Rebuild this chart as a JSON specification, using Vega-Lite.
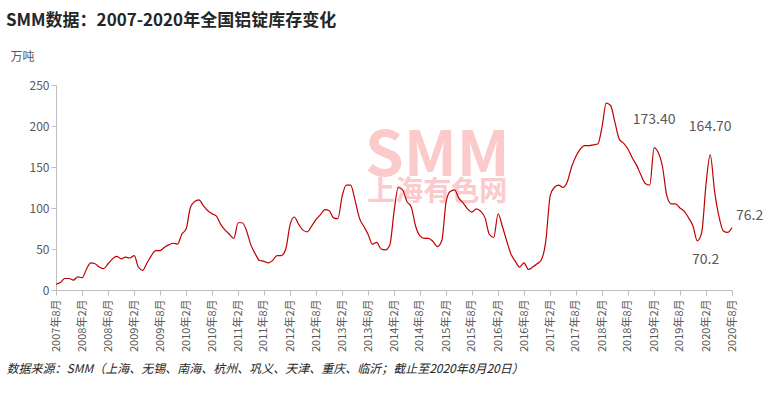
{
"$schema": "https://vega.github.io/schema/vega-lite/v6.json",
"width": 676, "height": 205,
"autosize": {"type": "none"},
"padding": {"left": 56, "top": 85, "right": 35, "bottom": 129},
"background": "white",
"config": {"view": {"stroke": null}, "font": "Noto Sans CJK SC"},
"title": {"text": "SMM数据：2007-2020年全国铝锭库存变化", "anchor": "start", "dx": 0, "offset": 20, "fontSize": 17, "fontWeight": "bold", "color": "#262626"},
"data": {"values": [
{"m":"2007/08/01","v":7},{"m":"2007/09/01","v":9},{"m":"2007/10/01","v":14},{"m":"2007/11/01","v":14},{"m":"2007/12/01","v":12},
{"m":"2008/01/01","v":16},{"m":"2008/02/01","v":15},{"m":"2008/03/01","v":25},{"m":"2008/04/01","v":33},{"m":"2008/05/01","v":32},{"m":"2008/06/01","v":28},{"m":"2008/07/01","v":26},{"m":"2008/08/01","v":32},{"m":"2008/09/01","v":38},{"m":"2008/10/01","v":41},{"m":"2008/11/01","v":38},{"m":"2008/12/01","v":40},
{"m":"2009/01/01","v":39},{"m":"2009/02/01","v":42},{"m":"2009/03/01","v":28},{"m":"2009/04/01","v":24},{"m":"2009/05/01","v":33},{"m":"2009/06/01","v":42},{"m":"2009/07/01","v":48},{"m":"2009/08/01","v":48},{"m":"2009/09/01","v":52},{"m":"2009/10/01","v":55},{"m":"2009/11/01","v":57},{"m":"2009/12/01","v":56},
{"m":"2010/01/01","v":68},{"m":"2010/02/01","v":75},{"m":"2010/03/01","v":100},{"m":"2010/04/01","v":108},{"m":"2010/05/01","v":110},{"m":"2010/06/01","v":103},{"m":"2010/07/01","v":97},{"m":"2010/08/01","v":93},{"m":"2010/09/01","v":90},{"m":"2010/10/01","v":80},{"m":"2010/11/01","v":73},{"m":"2010/12/01","v":68},
{"m":"2011/01/01","v":63},{"m":"2011/02/01","v":82},{"m":"2011/03/01","v":82},{"m":"2011/04/01","v":72},{"m":"2011/05/01","v":55},{"m":"2011/06/01","v":44},{"m":"2011/07/01","v":36},{"m":"2011/08/01","v":35},{"m":"2011/09/01","v":33},{"m":"2011/10/01","v":36},{"m":"2011/11/01","v":42},{"m":"2011/12/01","v":42},
{"m":"2012/01/01","v":50},{"m":"2012/02/01","v":80},{"m":"2012/03/01","v":89},{"m":"2012/04/01","v":80},{"m":"2012/05/01","v":73},{"m":"2012/06/01","v":71},{"m":"2012/07/01","v":78},{"m":"2012/08/01","v":86},{"m":"2012/09/01","v":92},{"m":"2012/10/01","v":98},{"m":"2012/11/01","v":97},{"m":"2012/12/01","v":88},
{"m":"2013/01/01","v":87},{"m":"2013/02/01","v":115},{"m":"2013/03/01","v":128},{"m":"2013/04/01","v":128},{"m":"2013/05/01","v":110},{"m":"2013/06/01","v":88},{"m":"2013/07/01","v":78},{"m":"2013/08/01","v":68},{"m":"2013/09/01","v":56},{"m":"2013/10/01","v":58},{"m":"2013/11/01","v":50},{"m":"2013/12/01","v":49},
{"m":"2014/01/01","v":55},{"m":"2014/02/01","v":97},{"m":"2014/03/01","v":125},{"m":"2014/04/01","v":122},{"m":"2014/05/01","v":108},{"m":"2014/06/01","v":101},{"m":"2014/07/01","v":78},{"m":"2014/08/01","v":66},{"m":"2014/09/01","v":63},{"m":"2014/10/01","v":63},{"m":"2014/11/01","v":59},{"m":"2014/12/01","v":53},
{"m":"2015/01/01","v":60},{"m":"2015/02/01","v":108},{"m":"2015/03/01","v":120},{"m":"2015/04/01","v":122},{"m":"2015/05/01","v":112},{"m":"2015/06/01","v":106},{"m":"2015/07/01","v":99},{"m":"2015/08/01","v":95},{"m":"2015/09/01","v":99},{"m":"2015/10/01","v":96},{"m":"2015/11/01","v":88},{"m":"2015/12/01","v":68},
{"m":"2016/01/01","v":64},{"m":"2016/02/01","v":93},{"m":"2016/03/01","v":78},{"m":"2016/04/01","v":60},{"m":"2016/05/01","v":44},{"m":"2016/06/01","v":35},{"m":"2016/07/01","v":28},{"m":"2016/08/01","v":33},{"m":"2016/09/01","v":25},{"m":"2016/10/01","v":28},{"m":"2016/11/01","v":32},{"m":"2016/12/01","v":37},
{"m":"2017/01/01","v":60},{"m":"2017/02/01","v":115},{"m":"2017/03/01","v":125},{"m":"2017/04/01","v":128},{"m":"2017/05/01","v":125},{"m":"2017/06/01","v":132},{"m":"2017/07/01","v":150},{"m":"2017/08/01","v":163},{"m":"2017/09/01","v":172},{"m":"2017/10/01","v":176},{"m":"2017/11/01","v":176},{"m":"2017/12/01","v":177},
{"m":"2018/01/01","v":178},{"m":"2018/02/01","v":200},{"m":"2018/03/01","v":228},{"m":"2018/04/01","v":225},{"m":"2018/05/01","v":205},{"m":"2018/06/01","v":184},{"m":"2018/07/01","v":179},{"m":"2018/08/01","v":172},{"m":"2018/09/01","v":161},{"m":"2018/10/01","v":152},{"m":"2018/11/01","v":140},{"m":"2018/12/01","v":130},
{"m":"2019/01/01","v":128},{"m":"2019/02/01","v":173.4,"lab":"173.40","pos":"up"},{"m":"2019/03/01","v":168},{"m":"2019/04/01","v":150},{"m":"2019/05/01","v":115},{"m":"2019/06/01","v":105},{"m":"2019/07/01","v":105},{"m":"2019/08/01","v":100},{"m":"2019/09/01","v":96},{"m":"2019/10/01","v":88},{"m":"2019/11/01","v":78},{"m":"2019/12/01","v":60},
{"m":"2020/01/01","v":70},{"m":"2020/02/01","v":130},{"m":"2020/03/01","v":164.7,"lab":"164.70","pos":"up"},{"m":"2020/04/01","v":120},{"m":"2020/05/01","v":90},{"m":"2020/06/01","v":72},{"m":"2020/07/01","v":70.2,"lab":"70.2","pos":"down"},{"m":"2020/08/01","v":76.2,"lab":"76.2","pos":"right"}
]},
"encoding": {
  "x": {"field": "m", "type": "temporal",
    "scale": {"domain": [{"year":2007,"month":8,"date":1},{"year":2020,"month":8,"date":1}]},
    "axis": {"values": [
      {"year":2007,"month":8,"date":1},{"year":2008,"month":2,"date":1},{"year":2008,"month":8,"date":1},{"year":2009,"month":2,"date":1},{"year":2009,"month":8,"date":1},{"year":2010,"month":2,"date":1},{"year":2010,"month":8,"date":1},{"year":2011,"month":2,"date":1},{"year":2011,"month":8,"date":1},{"year":2012,"month":2,"date":1},{"year":2012,"month":8,"date":1},{"year":2013,"month":2,"date":1},{"year":2013,"month":8,"date":1},{"year":2014,"month":2,"date":1},{"year":2014,"month":8,"date":1},{"year":2015,"month":2,"date":1},{"year":2015,"month":8,"date":1},{"year":2016,"month":2,"date":1},{"year":2016,"month":8,"date":1},{"year":2017,"month":2,"date":1},{"year":2017,"month":8,"date":1},{"year":2018,"month":2,"date":1},{"year":2018,"month":8,"date":1},{"year":2019,"month":2,"date":1},{"year":2019,"month":8,"date":1},{"year":2020,"month":2,"date":1},{"year":2020,"month":8,"date":1}],
      "labelExpr": "timeFormat(datum.value, '%Y') + '年' + (month(datum.value) + 1) + '月'",
      "labelAngle": -90, "labelFontSize": 11, "labelColor": "#595959", "labelPadding": 4,
      "domainColor": "#bfbfbf", "tickColor": "#bfbfbf", "tickSize": 5, "grid": false,
      "title": "数据来源：SMM（上海、无锡、南海、杭州、巩义、天津、重庆、临沂；截止至2020年8月20日）",
      "titleFontStyle": "italic", "titleFontWeight": "normal", "titleFontSize": 12, "titleColor": "#262626",
      "titleAnchor": "start", "titleAlign": "left", "titleX": -50, "titlePadding": 12}},
  "y": {"field": "v", "type": "quantitative",
    "scale": {"domain": [0, 250]},
    "axis": {"values": [0,50,100,150,200,250], "grid": false, "labelFontSize": 12, "labelColor": "#595959",
      "domainColor": "#bfbfbf", "tickColor": "#bfbfbf", "tickSize": 5,
      "title": "万吨", "titleAngle": 0, "titleAlign": "left", "titleBaseline": "bottom", "titleX": -46, "titleY": -22,
      "titleFontWeight": "normal", "titleFontSize": 12, "titleColor": "#595959"}}
},
"layer": [
  {"data": {"values": [{"m":"2014/12/01","v":162,"t":"SMM","s":62},{"m":"2014/12/01","v":118,"t":"上海有色网","s":28}]},
   "mark": {"type": "text", "fontWeight": "bold", "color": "#fbcaca"},
   "encoding": {"text": {"field": "t"}, "size": {"field": "s", "type": "quantitative", "scale": null}}},
  {"mark": {"type": "line", "color": "#c00000", "strokeWidth": 1.2, "interpolate": "monotone"}},
  {"transform": [{"filter": "datum.pos == 'up'"}],
   "mark": {"type": "text", "dy": -28, "fontSize": 14, "color": "#595959"},
   "encoding": {"text": {"field": "lab"}}},
  {"transform": [{"filter": "datum.pos == 'down'"}],
   "mark": {"type": "text", "dy": 28, "dx": -22, "fontSize": 14, "color": "#595959"},
   "encoding": {"text": {"field": "lab"}}},
  {"transform": [{"filter": "datum.pos == 'right'"}],
   "mark": {"type": "text", "align": "left", "dx": 4, "dy": -12, "fontSize": 14, "color": "#595959"},
   "encoding": {"text": {"field": "lab"}}}
]
}
